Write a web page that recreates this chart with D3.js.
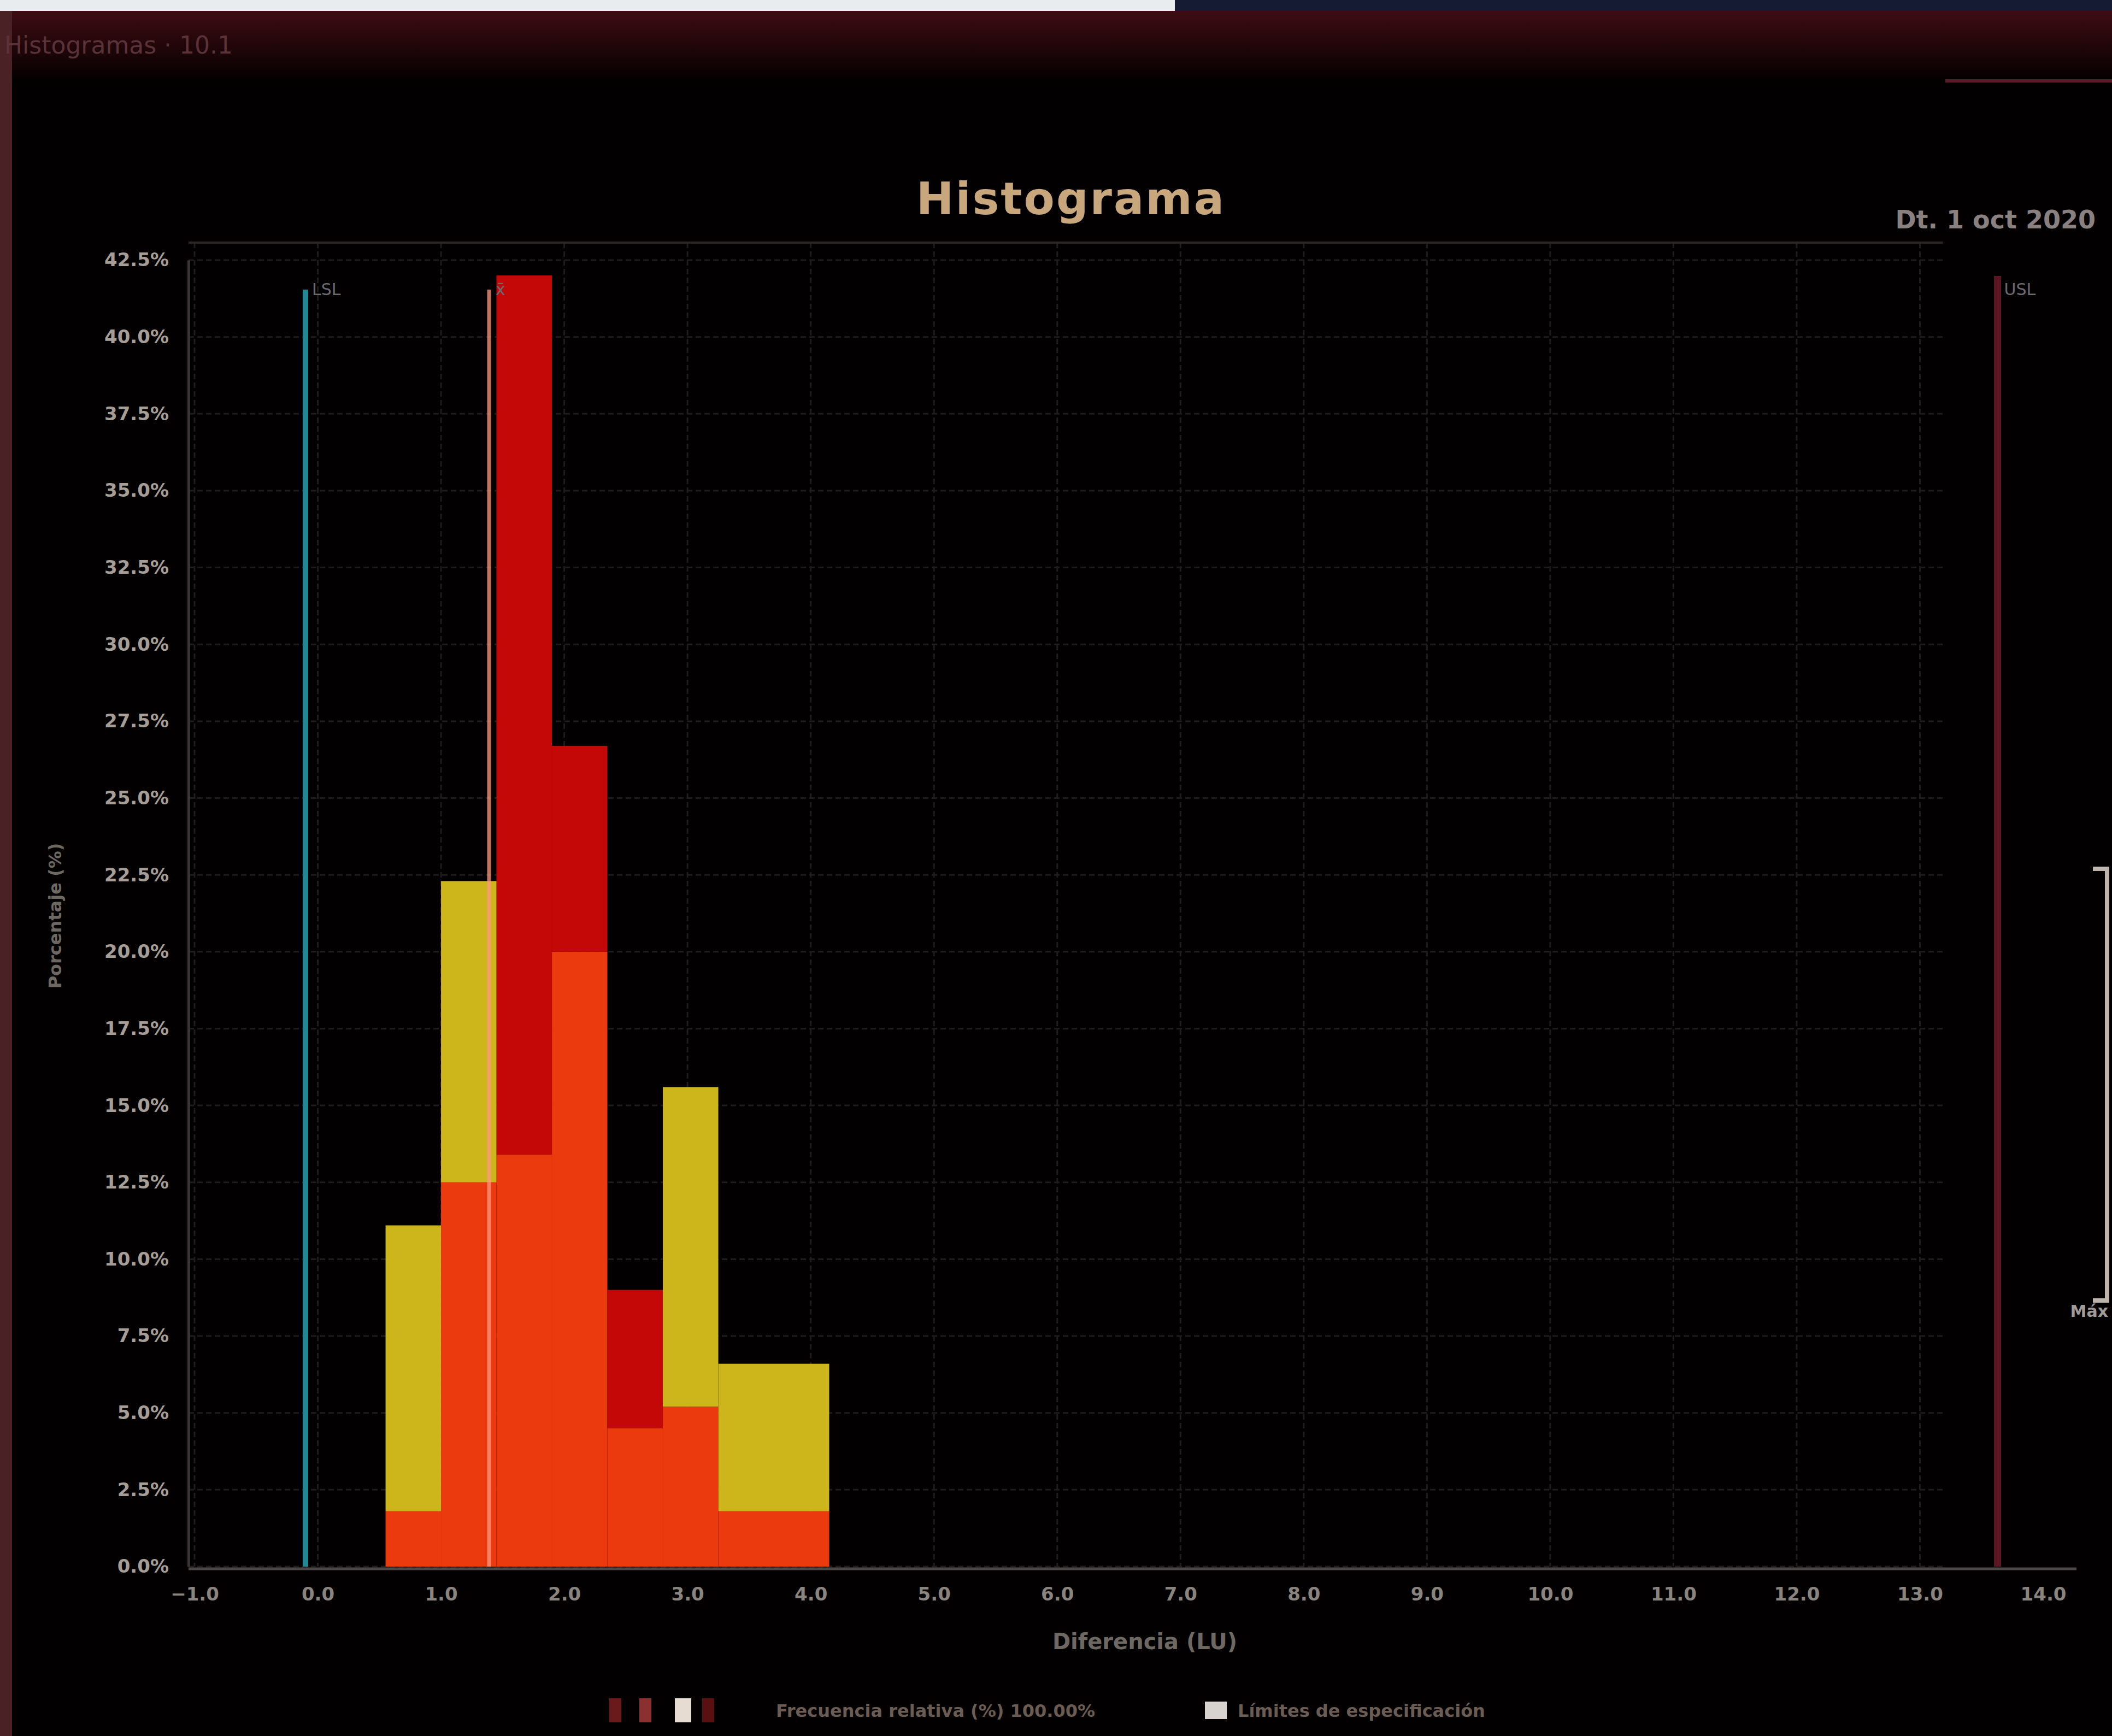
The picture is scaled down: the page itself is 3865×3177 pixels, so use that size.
<!DOCTYPE html>
<html>
<head>
<meta charset="utf-8">
<script src="https://cdn.jsdelivr.net/npm/d3@7"></script>
<style>
  html, body { margin: 0; padding: 0; background: #020000; }
  svg { display: block; font-family: "DejaVu Sans", "Noto Sans", sans-serif; }
</style>
</head>
<body>
<div id="chart-container"></div>
<script>
// Histogram bins (lower/upper edges) and stacked shares per bin (%)
const binEdges = [0.55, 1.0, 1.45, 1.9, 2.35, 2.8, 3.25, 3.7, 4.15];
const seriesNames = ["Naranja", "Rojo", "Amarillo"];
const orangeValues = [1.8, 12.5, 13.4, 20.0, 4.5, 5.2, 1.8, 1.8];
const redValues = [0, 0, 28.6, 6.7, 4.5, 0, 0, 0];
const yellowValues = [9.3, 9.8, 0, 0, 0, 10.4, 4.8, 4.8];

const yTicks = d3.range(0, 42.51, 2.5);
const xTicks = d3.range(-1, 14.01, 1);

// reference lines
const refLines = [
    { name: "LSL", value: -0.1, color: "#238893" },
    { name: "x̄", value: 1.39, color: "#ff9a80" },
    { name: "USL", value: 13.63, color: "#5c1522" }
];

const legendLabels = ["Frecuencia relativa (%)  100.00%", "Límites de especificación"];

const width = 3865;
const height = 3177;

const svg = d3.select("#chart-container")
    .append("svg")
    .attr("width", width)
    .attr("height", height);

// page chrome
svg.append("rect").attr("width", width).attr("height", height).attr("fill", "#020000");

const defs = svg.append("defs");
const hdr = defs.append("linearGradient").attr("id", "hdr").attr("x1", 0).attr("x2", 0).attr("y1", 0).attr("y2", 1);
hdr.append("stop").attr("offset", "0%").attr("stop-color", "#3e0c12");
hdr.append("stop").attr("offset", "100%").attr("stop-color", "#030000");
svg.append("rect").attr("x", 0).attr("y", 20).attr("width", width).attr("height", 130).attr("fill", "url(#hdr)");

svg.append("rect").attr("x", 0).attr("y", 0).attr("width", 2150).attr("height", 20).attr("fill", "#e8ecee");
svg.append("rect").attr("x", 2150).attr("y", 0).attr("width", width - 2150).attr("height", 20).attr("fill", "#161b34");
svg.append("rect").attr("x", 0).attr("y", 20).attr("width", 22).attr("height", height).attr("fill", "#4a2226");
svg.append("line").attr("x1", 3560).attr("x2", width).attr("y1", 148).attr("y2", 148)
    .attr("stroke", "#5a1a28").attr("stroke-width", 6);

svg.append("text").attr("x", 8).attr("y", 98)
    .attr("fill", "#5a3238").style("font-size", "44px")
    .text("Histogramas · 10.1");

svg.append("text").attr("x", 1960).attr("y", 392)
    .attr("text-anchor", "middle").attr("fill", "#c9a77c")
    .style("font-size", "82px").style("font-weight", "bold").style("letter-spacing", "3px")
    .text("Histograma");

svg.append("text").attr("x", 3835).attr("y", 418)
    .attr("text-anchor", "end").attr("fill", "#8a8080")
    .style("font-size", "46px").style("font-weight", "bold")
    .text("Dt. 1 oct 2020");

// scales
const xScale = d3.scaleLinear().domain([-1, 14]).range([356, 3739]);
const yScale = d3.scaleLinear().domain([0, 42.5]).range([2867, 476]);

const plotLeft = 345, plotRight = 3555, plotTop = 444;

// grid
const grid = svg.append("g");
grid.selectAll(".hgrid").data(yTicks).enter().append("line")
    .attr("x1", plotLeft).attr("x2", plotRight)
    .attr("y1", d => yScale(d)).attr("y2", d => yScale(d))
    .attr("stroke", "#1e1c1c").attr("stroke-width", 3).attr("stroke-dasharray", "10,6");
grid.selectAll(".vgrid").data(xTicks.filter(d => xScale(d) <= plotRight)).enter().append("line")
    .attr("x1", d => xScale(d)).attr("x2", d => xScale(d))
    .attr("y1", plotTop).attr("y2", yScale(0))
    .attr("stroke", "#1e1c1c").attr("stroke-width", 3).attr("stroke-dasharray", "10,6");
grid.append("line").attr("x1", plotLeft).attr("x2", plotRight).attr("y1", plotTop).attr("y2", plotTop)
    .attr("stroke", "#2a2626").attr("stroke-width", 4);

// stacked bars
const bins = orangeValues.map((v, i) => ({
    x0: binEdges[i], x1: binEdges[i + 1],
    Naranja: v, Rojo: redValues[i], Amarillo: yellowValues[i]
}));
const colorScale = d3.scaleOrdinal().domain(seriesNames).range(["#ea3a0e", "#c40808", "#cdb51c"]);
const stacked = d3.stack().keys(seriesNames)(bins);

svg.append("g").selectAll("g")
    .data(stacked)
    .enter().append("g")
    .attr("fill", d => colorScale(d.key))
    .selectAll("rect")
    .data(d => d)
    .enter().append("rect")
    .attr("x", d => xScale(d.data.x0))
    .attr("width", d => xScale(d.data.x1) - xScale(d.data.x0))
    .attr("y", d => yScale(d[1]))
    .attr("height", d => yScale(d[0]) - yScale(d[1]));

// reference lines
const refs = svg.append("g");
refs.selectAll("line").data(refLines).enter().append("line")
    .attr("x1", d => xScale(d.value)).attr("x2", d => xScale(d.value))
    .attr("y1", (d, i) => i === 2 ? 505 : 530).attr("y2", yScale(0))
    .attr("stroke", d => d.color)
    .attr("stroke-width", (d, i) => i === 2 ? 13 : (i === 1 ? 7 : 10))
    .attr("stroke-opacity", (d, i) => i === 1 ? 0.75 : 1);
refs.selectAll("text").data(refLines).enter().append("text")
    .attr("x", d => xScale(d.value) + 12).attr("y", 540)
    .attr("fill", "#6c6a70").style("font-size", "30px")
    .text(d => d.name);

// axes
const yAxis = svg.append("g")
    .attr("transform", `translate(${plotLeft},0)`)
    .call(d3.axisLeft(yScale).tickValues(yTicks).tickFormat(d => d3.format(".1f")(d) + "%").tickSize(0).tickPadding(36));
yAxis.select(".domain").attr("stroke", "#3a3434").attr("stroke-width", 5);
yAxis.selectAll("text").attr("fill", "#a69e96").style("font-size", "34px").style("font-weight", "bold")
    .style("font-family", "'DejaVu Sans', sans-serif");

const xAxis = svg.append("g")
    .attr("transform", `translate(0,${yScale(0) + 4})`)
    .call(d3.axisBottom(xScale).tickValues(xTicks).tickFormat(d3.format(".1f")).tickSize(0).tickPadding(34));
xAxis.select(".domain").attr("stroke", "#4a4646").attr("stroke-width", 5)
    .attr("d", `M${plotLeft},0H${3800}`);
xAxis.selectAll("text").attr("fill", "#8a847e").style("font-size", "34px").style("font-weight", "bold")
    .style("font-family", "'DejaVu Sans', sans-serif");

svg.append("text").attr("x", 2095).attr("y", 3018)
    .attr("text-anchor", "middle").attr("fill", "#6e6862")
    .style("font-size", "40px").style("font-weight", "bold")
    .text("Diferencia (LU)");

svg.append("text").attr("transform", "translate(112,1676) rotate(-90)")
    .attr("text-anchor", "middle").attr("fill", "#6e6862")
    .style("font-size", "32px").style("font-weight", "bold")
    .text("Porcentaje (%)");

// right bracket (cut-off side panel)
const br = svg.append("g").attr("stroke", "#bdb4ae").attr("stroke-width", 8).attr("fill", "none");
br.append("path").attr("d", "M3830,1590 L3856,1590 L3856,2380 L3830,2380");
svg.append("text").attr("x", 3858).attr("y", 2410)
    .attr("text-anchor", "end")
    .attr("fill", "#a09a98").style("font-size", "30px").style("font-weight", "bold")
    .text("Máx");

// bottom legend
const legend = svg.append("g").attr("transform", "translate(0,3130)");
const swatches = ["#6a1a1a", "#8a3030", "#e6dcd2", "#5a1010"];
legend.selectAll("rect").data(swatches).enter().append("rect")
    .attr("x", (d, i) => [1115, 1170, 1235, 1285][i])
    .attr("y", -22).attr("width", (d, i) => i === 2 ? 30 : 22).attr("height", 44)
    .attr("fill", d => d);
legend.append("rect").attr("x", 2205).attr("y", -16).attr("width", 40).attr("height", 32).attr("fill", "#d8d2ce");
legend.selectAll("text").data(legendLabels).enter().append("text")
    .attr("x", (d, i) => i === 0 ? 1420 : 2265)
    .attr("y", 12)
    .attr("fill", "#6a5c52").style("font-size", "32px").style("font-weight", "bold")
    .text(d => d);
</script>
</body>
</html>
